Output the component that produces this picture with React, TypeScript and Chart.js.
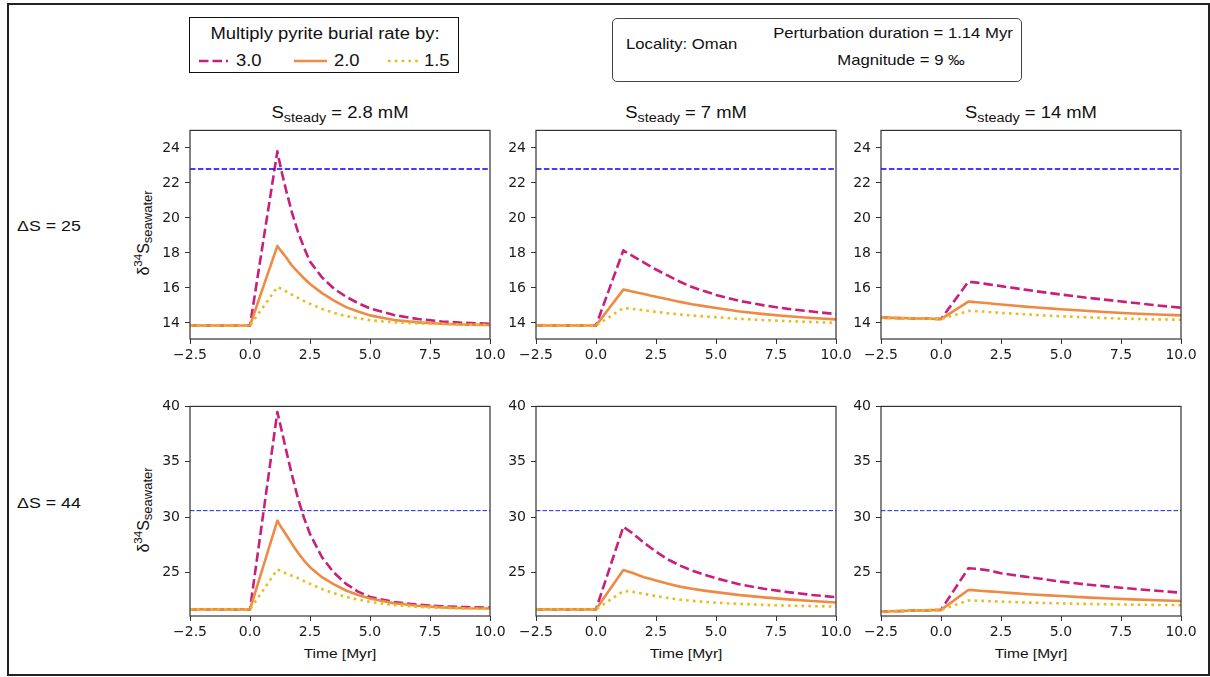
import React, { useEffect, useRef } from 'react';
import { Chart, registerables } from 'chart.js';

Chart.register(...registerables);

// ---------- data ----------
const TIME = [-2.5, 0, 1.14, 1.3, 1.5, 1.75, 2, 2.25, 2.5, 3, 3.5, 4, 4.5, 5, 6, 7, 8, 9, 10];
const MULTIPLIERS = ['3.0', '2.0', '1.5'];
const COLUMN_TITLES = ['2.8 mM', '7 mM', '14 mM'];
const ROW_LABELS = ['ΔS = 25', 'ΔS = 44'];
const THRESHOLDS = [22.8, 30.6];
const X_TICKS = [-2.5, 0, 2.5, 5, 7.5, 10];
const Y_TICKS_ROW1 = [14, 16, 18, 20, 22, 24];
const Y_TICKS_ROW2 = [25, 30, 35, 40];
const Y_RANGE_ROW1 = [13.08, 25.0];
const Y_RANGE_ROW2 = [21.1, 40.0];

// Row 1: ΔS = 25
const R1C1_X30 = [13.85, 13.85, 23.8, 22.75, 21.6, 20.3, 19.2, 18.3, 17.5, 16.6, 15.95, 15.5, 15.13, 14.83, 14.45, 14.22, 14.08, 14.0, 13.95];
const R1C1_X20 = [13.85, 13.85, 18.4, 18.1, 17.75, 17.27, 16.9, 16.55, 16.22, 15.7, 15.27, 14.9, 14.65, 14.43, 14.17, 14.03, 13.95, 13.9, 13.88];
const R1C1_X15 = [13.85, 13.85, 16.05, 15.95, 15.8, 15.61, 15.43, 15.25, 15.09, 14.8, 14.57, 14.39, 14.26, 14.15, 14.03, 13.97, 13.93, 13.9, 13.88];

const R1C2_X30 = [13.85, 13.85, 18.15, 18.0, 17.85, 17.65, 17.45, 17.25, 17.05, 16.7, 16.35, 16.05, 15.82, 15.6, 15.25, 15.0, 14.8, 14.65, 14.5];
const R1C2_X20 = [13.85, 13.85, 15.9, 15.86, 15.8, 15.72, 15.65, 15.57, 15.5, 15.35, 15.2, 15.07, 14.96, 14.85, 14.65, 14.5, 14.38, 14.28, 14.2];
const R1C2_X15 = [13.85, 13.85, 14.85, 14.83, 14.8, 14.76, 14.72, 14.67, 14.63, 14.55, 14.48, 14.42, 14.37, 14.32, 14.23, 14.16, 14.1, 14.05, 14.0];

const R1C3_X30 = [14.3, 14.22, 16.35, 16.33, 16.3, 16.25, 16.2, 16.15, 16.1, 16.0, 15.9, 15.8, 15.71, 15.62, 15.45, 15.3, 15.15, 15.0, 14.87];
const R1C3_X20 = [14.3, 14.22, 15.22, 15.2, 15.18, 15.15, 15.12, 15.08, 15.05, 14.99, 14.93, 14.88, 14.83, 14.78, 14.69, 14.61, 14.54, 14.48, 14.43];
const R1C3_X15 = [14.3, 14.22, 14.68, 14.68, 14.67, 14.65, 14.62, 14.6, 14.57, 14.53, 14.49, 14.45, 14.41, 14.38, 14.32, 14.27, 14.23, 14.2, 14.18];

// Row 2: ΔS = 44
const R2C1_X30 = [21.7, 21.7, 39.5, 38.0, 36.1, 33.8, 31.7, 29.95, 28.5, 26.4, 25.0, 24.0, 23.3, 22.82, 22.36, 22.12, 21.98, 21.9, 21.85];
const R2C1_X20 = [21.7, 21.7, 29.7, 29.1, 28.45, 27.6, 26.8, 26.1, 25.5, 24.6, 23.95, 23.4, 23.0, 22.68, 22.25, 22.02, 21.88, 21.8, 21.77];
const R2C1_X15 = [21.7, 21.7, 25.3, 25.15, 24.95, 24.73, 24.52, 24.25, 24.0, 23.53, 23.15, 22.83, 22.58, 22.37, 22.08, 21.92, 21.82, 21.77, 21.75];

const R2C2_X30 = [21.7, 21.7, 29.15, 28.9, 28.6, 28.15, 27.7, 27.3, 26.9, 26.2, 25.65, 25.2, 24.83, 24.5, 23.95, 23.55, 23.25, 23.0, 22.8];
const R2C2_X20 = [21.7, 21.7, 25.25, 25.14, 25.0, 24.8, 24.6, 24.45, 24.3, 24.0, 23.75, 23.55, 23.39, 23.25, 22.98, 22.78, 22.6, 22.45, 22.32];
const R2C2_X15 = [21.7, 21.7, 23.35, 23.33, 23.3, 23.2, 23.1, 23.0, 22.9, 22.72, 22.58, 22.47, 22.38, 22.3, 22.18, 22.1, 22.04, 21.99, 21.95];

const R2C3_X30 = [21.5, 21.65, 25.4, 25.38, 25.35, 25.28, 25.2, 25.08, 24.95, 24.8, 24.65, 24.5, 24.35, 24.2, 23.95, 23.75, 23.55, 23.38, 23.2];
const R2C3_X20 = [21.5, 21.65, 23.45, 23.43, 23.4, 23.36, 23.32, 23.28, 23.24, 23.16, 23.09, 23.02, 22.96, 22.9, 22.78, 22.68, 22.6, 22.52, 22.45];
const R2C3_X15 = [21.5, 21.65, 22.5, 22.49, 22.48, 22.46, 22.44, 22.42, 22.4, 22.36, 22.32, 22.29, 22.26, 22.24, 22.19, 22.15, 22.12, 22.1, 22.08];

// ---------- style ----------
const COLORS = ['#c8207a', '#ee8a44', '#e9bb1f'];
const DASHES: number[][] = [[9.5, 4], [], [2.6, 4.2]];
const TEXT_FONT = '"Liberation Sans", Arial, sans-serif';
const TICK_FONT = '"DejaVu Sans", sans-serif';
const STRETCH = 1.15;

const COL_LEFTS = [190, 536, 881];
const PLOT_W = 300;
const ROW_TOPS = [127, 403];
const PLOT_HS = [212, 213];
const Y_AXIS_W = 50;
const X_AXIS_H = 30;
const PAD_TOP = 10;
const PAD_RIGHT = 20;

const fmtX = (v: number) => v.toFixed(1).replace('-', '\u2212');

const boxPlugin = {
  id: 'boxFrame',
  afterDatasetsDraw(chart: any) {
    const { ctx, chartArea } = chart;
    ctx.save();
    ctx.strokeStyle = '#333';
    ctx.lineWidth = 1.2;
    ctx.strokeRect(chartArea.left, chartArea.top, chartArea.right - chartArea.left, chartArea.bottom - chartArea.top);
    ctx.restore();
  },
};

type PanelProps = {
  row: number;
  col: number;
  series: number[][];
};

function Panel({ row, col, series }: PanelProps) {
  const ref = useRef<HTMLCanvasElement | null>(null);
  const plotH = PLOT_HS[row];
  const width = Y_AXIS_W + PLOT_W + PAD_RIGHT;
  const height = PAD_TOP + plotH + X_AXIS_H;
  useEffect(() => {
    if (!ref.current) return;
    const thr = THRESHOLDS[row];
    const yRange = row === 0 ? Y_RANGE_ROW1 : Y_RANGE_ROW2;
    const yTicks = row === 0 ? Y_TICKS_ROW1 : Y_TICKS_ROW2;
    const datasets: any[] = [
      {
        label: 'threshold',
        data: [{ x: X_TICKS[0], y: thr }, { x: X_TICKS[X_TICKS.length - 1], y: thr }],
        borderColor: row === 0 ? '#0000ff' : '#2323d8',
        borderWidth: row === 0 ? 1.5 : 1,
        borderDash: row === 0 ? [5.5, 2.4] : [4.5, 2],
        order: 0,
      },
    ];
    series.forEach((s, i) => {
      datasets.push({
        label: MULTIPLIERS[i],
        data: TIME.map((t, j) => ({ x: t, y: s[j] })),
        borderColor: COLORS[i],
        borderWidth: 2.6,
        borderDash: DASHES[i],
        order: 3 - i,
      });
    });
    const tickFont = { family: TICK_FONT, size: 14 };
    const grid = {
      display: true,
      drawOnChartArea: false,
      drawTicks: true,
      tickLength: 5,
      tickColor: '#333',
      tickWidth: 1,
    };
    const chart = new Chart(ref.current, {
      type: 'line',
      data: { datasets },
      options: {
        responsive: false,
        maintainAspectRatio: false,
        animation: false,
        events: [],
        layout: { padding: { left: 0, top: PAD_TOP, right: PAD_RIGHT, bottom: 0 } },
        plugins: { legend: { display: false }, tooltip: { enabled: false }, title: { display: false } },
        elements: { point: { radius: 0 }, line: { tension: 0, borderCapStyle: 'butt', borderJoinStyle: 'round' } },
        scales: {
          x: {
            type: 'linear',
            min: X_TICKS[0],
            max: X_TICKS[X_TICKS.length - 1],
            afterBuildTicks: (a: any) => {
              a.ticks = X_TICKS.map((v) => ({ value: v }));
            },
            afterFit: (a: any) => {
              a.height = X_AXIS_H;
            },
            ticks: { font: tickFont, color: '#1a1a1a', padding: 3, maxRotation: 0, autoSkip: false, callback: (v: any) => fmtX(Number(v)) },
            grid,
            border: { display: false },
          },
          y: {
            type: 'linear',
            min: yRange[0],
            max: yRange[1],
            afterBuildTicks: (a: any) => {
              a.ticks = yTicks.map((v) => ({ value: v }));
            },
            afterFit: (a: any) => {
              a.width = Y_AXIS_W;
            },
            ticks: { font: tickFont, color: '#1a1a1a', padding: 5, autoSkip: false, callback: (v: any) => String(v) },
            grid,
            border: { display: false },
          },
        },
      } as any,
      plugins: [boxPlugin],
    });
    return () => chart.destroy();
  }, [row, col, series]);
  return (
    <canvas
      ref={ref}
      width={width}
      height={height}
      style={{ position: 'absolute', left: COL_LEFTS[col] - Y_AXIS_W, top: ROW_TOPS[row] - PAD_TOP, width, height }}
    />
  );
}

const PANELS: number[][][][] = [
  [
    [R1C1_X30, R1C1_X20, R1C1_X15],
    [R1C2_X30, R1C2_X20, R1C2_X15],
    [R1C3_X30, R1C3_X20, R1C3_X15],
  ],
  [
    [R2C1_X30, R2C1_X20, R2C1_X15],
    [R2C2_X30, R2C2_X20, R2C2_X15],
    [R2C3_X30, R2C3_X20, R2C3_X15],
  ],
];

const centered = (x: number, y: number, size: number): React.CSSProperties => ({
  position: 'absolute',
  left: x,
  top: y,
  fontSize: size,
  lineHeight: `${size}px`,
  whiteSpace: 'nowrap',
  transform: `translate(-50%, -50%) scaleX(${STRETCH})`,
});

const leftText = (x: number, y: number, size: number): React.CSSProperties => ({
  position: 'absolute',
  left: x,
  top: y,
  fontSize: size,
  lineHeight: `${size}px`,
  whiteSpace: 'nowrap',
  transformOrigin: 'left center',
  transform: `translateY(-50%) scaleX(${STRETCH})`,
});

function Swatch({ i, x, w }: { i: number; x: number; w: number }) {
  return (
    <svg style={{ position: 'absolute', left: x, top: 38, overflow: 'visible' }} width={w} height={10}>
      <line
        x1={0}
        y1={5}
        x2={w}
        y2={5}
        stroke={COLORS[i]}
        strokeWidth={2.6}
        strokeDasharray={DASHES[i].length ? DASHES[i].join(' ') : undefined}
      />
    </svg>
  );
}

export default function App() {
  useEffect(() => {
    document.body.style.margin = '0';
  }, []);
  return (
    <div style={{ position: 'absolute', left: 0, top: 0, width: 1210, height: 677, fontFamily: TEXT_FONT, color: '#111', background: '#fff', overflow: 'hidden' }}>
      <div style={{ position: 'absolute', left: 7, top: 3, width: 1203, height: 673, border: '2px solid #222', boxSizing: 'border-box' }} />

      {/* legend */}
      <div style={{ position: 'absolute', left: 189, top: 17, width: 270, height: 56, border: '1px solid #111', boxSizing: 'border-box' }}>
        <div style={centered(135, 16, 16)}>Multiply pyrite burial rate by:</div>
        <Swatch i={0} x={9} w={29} />
        <div style={leftText(46, 43, 16)}>{MULTIPLIERS[0]}</div>
        <Swatch i={1} x={104} w={33} />
        <div style={leftText(144, 43, 16)}>{MULTIPLIERS[1]}</div>
        <Swatch i={2} x={198} w={30} />
        <div style={leftText(234, 43, 16)}>{MULTIPLIERS[2]}</div>
      </div>

      {/* info box */}
      <div style={{ position: 'absolute', left: 612, top: 18, width: 410, height: 64, border: '1px solid #444', borderRadius: 5, boxSizing: 'border-box' }}>
        <div style={leftText(13, 25, 14.5)}>Locality: Oman</div>
        <div style={centered(280, 14, 14.5)}>Perturbation duration = 1.14 Myr</div>
        <div style={centered(288, 41, 14.5)}>Magnitude = 9 ‰</div>
      </div>

      {/* row labels */}
      {ROW_LABELS.map((t, r) => (
        <div key={t} style={leftText(17, r === 0 ? 226 : 503, 15.5)}>{t}</div>
      ))}

      {/* column titles */}
      {COLUMN_TITLES.map((t, c) => (
        <div key={t} style={centered(COL_LEFTS[c] + PLOT_W / 2, 113, 16)}>
          S<span style={{ fontSize: 12.5, position: 'relative', top: 4 }}>steady</span> = {t}
        </div>
      ))}

      {/* y labels */}
      {ROW_TOPS.map((top, r) => (
        <div
          key={r}
          style={{
            position: 'absolute',
            left: 144,
            top: top + PLOT_HS[r] / 2,
            fontSize: 16,
            lineHeight: '16px',
            whiteSpace: 'nowrap',
            transform: 'translate(-50%, -50%) rotate(-90deg)',
          }}
        >
          δ<span style={{ fontSize: 11.5, position: 'relative', top: -7 }}>34</span>S
          <span style={{ fontSize: 13, position: 'relative', top: 3 }}>seawater</span>
        </div>
      ))}

      {/* x labels */}
      {COL_LEFTS.map((l, c) => (
        <div key={c} style={centered(l + PLOT_W / 2, 654, 13.5)}>Time [Myr]</div>
      ))}

      {PANELS.map((rowPanels, r) =>
        rowPanels.map((series, c) => <Panel key={`${r}-${c}`} row={r} col={c} series={series} />)
      )}
    </div>
  );
}
